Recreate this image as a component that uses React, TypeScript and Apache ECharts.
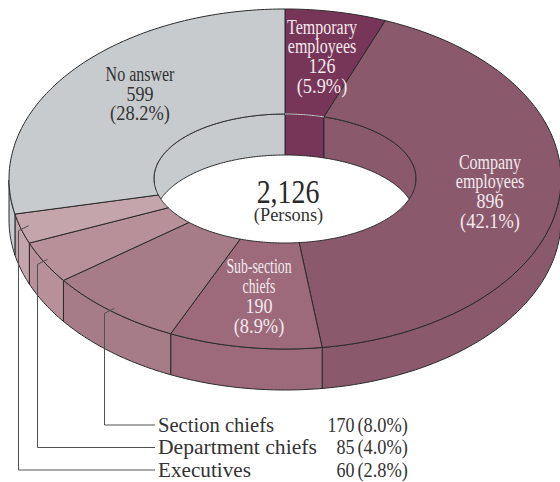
import React, { useEffect, useRef } from "react";
import * as echarts from "echarts";

const sliceNames = ["Temporary employees", "Company employees", "Sub-section chiefs", "Section chiefs", "Department chiefs", "Executives", "No answer"];
const sliceValues = [126, 896, 190, 170, 85, 60, 599];
const slicePercents = ["5.9", "42.1", "8.9", "8.0", "4.0", "2.8", "28.2"];
const unitLabel = "(Persons)";

const sliceColors = ["#773557", "#8A5A6C", "#9C6A7B", "#A67C88", "#B79099", "#C3A5AB", "#C8CBCE"];
const labelFills = ["#F3E9EE", "#F3E9EE", "#F3E9EE", "", "", "", "#333333"];
const labelLines: string[][] = [
  ["Temporary", "employees"],
  ["Company", "employees"],
  ["Sub-section", "chiefs"],
  [],
  [],
  [],
  ["No answer"],
];
const labelAnchor: number[][] = [
  [322, 27],
  [490, 162],
  [259, 267],
  [],
  [],
  [],
  [140, 74],
];
const labelScale = [0.8, 0.8, 0.69, 1, 1, 1, 0.8];
const leaderRowY = [425, 447.5, 470];
const leaderOffset = [7.5, 7, 3];
const nameScale = [1.03, 1.08, 1.06];

const CX = 285;
const CY = 179;
const RX = 276;
const RY = 170;
const IRX = 131;
const IRY = 64.5;
const DEPTH = 41;
const LINE = "#2A2A2A";
const SERIF = '"Liberation Serif", serif';

const total = sliceValues.reduce((a, b) => a + b, 0);
const cumulative = sliceValues.map((_, i) => sliceValues.slice(0, i).reduce((a, b) => a + b, 0));

// the printed drawing's rim runs very slightly behind the true angle
const skew = (t: number) => t - rad(0.4) * (1 - Math.cos(t));

function outer(t0: number, dy = 0): number[] {
  const t = skew(t0);
  return [CX + RX * Math.sin(t), CY - RY * Math.cos(t) + dy];
}
function inner(t0: number, dy = 0): number[] {
  const t = skew(t0);
  const ux = RX * Math.sin(t);
  const uy = -RY * Math.cos(t);
  const k = 1 / Math.sqrt((ux / IRX) ** 2 + (uy / IRY) ** 2);
  return [CX + ux * k, CY + uy * k - 0.5 + dy];
}
function samples(a: number, b: number): number[] {
  const n = Math.max(2, Math.ceil(Math.abs(b - a) / 0.015));
  const out: number[] = [];
  for (let i = 0; i <= n; i++) out.push(a + ((b - a) * i) / n);
  return out;
}
function rad(d: number) {
  return (d * Math.PI) / 180;
}

function wall(fn: (t: number, dy?: number) => number[], a: number, b: number) {
  const ts = samples(a, b);
  return [...ts.map((t) => fn(t)), ...ts.slice().reverse().map((t) => fn(t, DEPTH))];
}

function renderSlice(params: any, api: any) {
  const i = params.dataIndex;
  const value = api.value(0);
  const start = (cumulative[i] / total) * 360;
  const end = start + (value / total) * 360;
  const a = rad(start);
  const b = rad(end);
  const color = sliceColors[i];
  const children: any[] = [];
  const poly = (points: number[][], z2: number, fill: string | null, stroke = LINE, lw = 1) => ({
    type: "polygon",
    z2,
    shape: { points },
    style: { fill, stroke, lineWidth: lw, lineJoin: "round" },
  });

  // back part of the hole's wall
  [[0, 90], [270, 360]].forEach(([lo, hi]) => {
    const s = Math.max(start, lo);
    const e = Math.min(end, hi);
    if (e > s) children.push(poly(wall(inner, rad(s), rad(e)), 1, color));
  });
  // front part of the outer wall
  {
    const s = Math.max(start, 90);
    const e = Math.min(end, 270);
    if (e > s) children.push(poly(wall(outer, rad(s), rad(e)), 2, color));
  }
  // top face
  const ts = samples(a, b);
  children.push(poly([...ts.map((t) => outer(t)), ...ts.slice().reverse().map((t) => inner(t))], 3, color));

  // the first slice has a pale edge where its top face meets the hole's wall
  if (i === 0) {
    children.push({
      type: "polyline",
      z2: 5,
      shape: { points: ts.map((t) => inner(t)) },
      style: { fill: null, stroke: "#D9CDD3", lineWidth: 1 },
    });
  }

  // labels inside the ring
  const lines = labelLines[i];
  if (lines.length) {
    const [lx, ly] = labelAnchor[i];
    const rows = [...lines, String(value), `(${slicePercents[i]}%)`];
    rows.forEach((txt, r) => {
      const sx = r < lines.length ? labelScale[i] : r === lines.length ? 0.9 : 0.92;
      children.push({
        type: "text",
        z2: 20,
        x: lx,
        y: ly + r * 19.8,
        scaleX: sx,
        style: { text: txt, fontFamily: SERIF, fontSize: 20, fill: labelFills[i], align: "center", verticalAlign: "middle" },
      });
    });
  } else {
    // leader line and table row
    const row = i - 3;
    const mid = rad((start + end) / 2);
    const rim = outer(mid);
    const rowY = leaderRowY[row];
    const vx = Math.round(rim[0] - leaderOffset[row]) + 0.5;
    const vy = rim[1] + 2;
    children.push({
      type: "polyline",
      z2: 10,
      shape: { points: [[vx + 10, vy - 5], [vx, vy], [vx, rowY], [155, rowY]] },
      style: { fill: null, stroke: "#505050", lineWidth: 1 },
    });
    const baseStyle = { fontFamily: SERIF, fontSize: 20, fill: "#333333", verticalAlign: "middle" };
    children.push({ type: "text", z2: 20, x: 158, y: rowY, scaleX: nameScale[row], style: { ...baseStyle, text: sliceNames[i], align: "left" } });
    children.push({ type: "text", z2: 20, x: 354.5, y: rowY, scaleX: 0.9, style: { ...baseStyle, text: String(value), align: "right" } });
    children.push({ type: "text", z2: 20, x: 408, y: rowY, scaleX: 0.92, style: { ...baseStyle, text: `(${slicePercents[i]}%)`, align: "right" } });
  }
  return { type: "group", children };
}

export default function App() {
  const ref = useRef<HTMLDivElement>(null);
  useEffect(() => {
    const chart = echarts.init(ref.current!, undefined, { renderer: "svg" });
    chart.setOption({
      animation: false,
      backgroundColor: "#FFFFFF",
      graphic: [
        {
          type: "text",
          x: 288,
          y: 192,
          scaleX: 0.82,
          z: 50,
          style: { text: total.toLocaleString("en-US"), fontFamily: SERIF, fontSize: 34, fill: "#2A2A2A", align: "center", verticalAlign: "middle" },
        },
        {
          type: "text",
          x: 288.5,
          y: 215,
          scaleX: 1.02,
          z: 50,
          style: { text: unitLabel, fontFamily: SERIF, fontSize: 18, fill: "#333333", align: "center", verticalAlign: "middle" },
        },
      ],
      series: [
        {
          type: "custom",
          coordinateSystem: "none",
          clip: false,
          silent: true,
          data: sliceValues.map((v) => [v]),
          encode: { value: 0 },
          renderItem: renderSlice,
        },
      ],
    });
    return () => chart.dispose();
  }, []);
  return <div ref={ref} style={{ position: "absolute", left: 0, top: 0, width: 560, height: 482 }} />;
}
